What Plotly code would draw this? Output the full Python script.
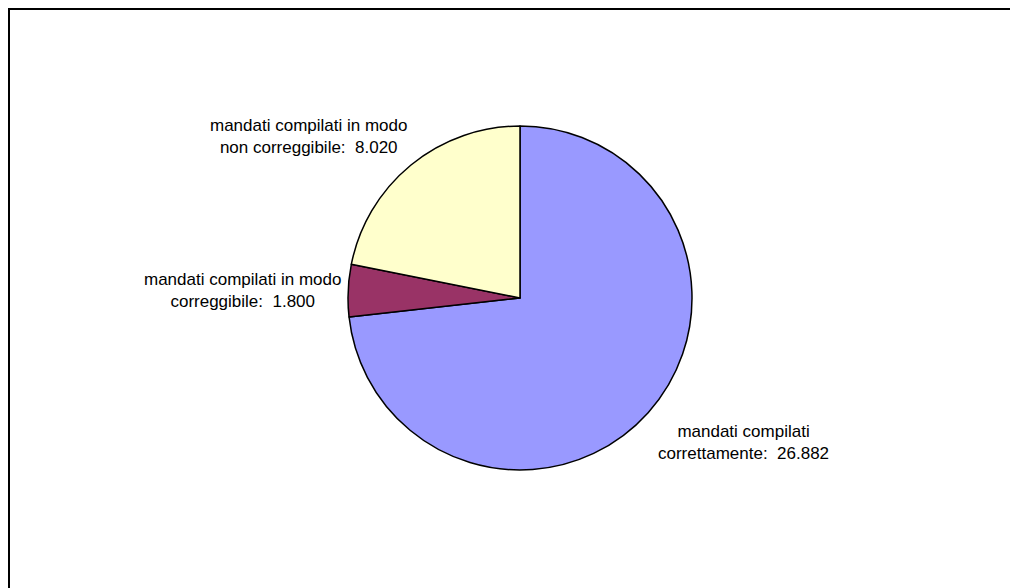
import plotly.graph_objects as go

# The page body adds an 8px offset; the figure fills the rest of the 1018x588 window.
OFF = 8
W, H = 1018 - OFF, 588 - OFF

categories = ["mandati compilati correttamente", "mandati compilati in modo correggibile",
              "mandati compilati in modo non correggibile"]
values = [26882, 1800, 8020]
colors = ["#9999FF", "#993366", "#FFFFCC"]
label_lines = [["mandati compilati", "correttamente:"],
               ["mandati compilati in modo", "correggibile:"],
               ["mandati compilati in modo", "non correggibile:"]]
label_pos = [(743, 442.5), (242, 290.5), (308, 136.5)]  # screen pixel positions of label centres

def fmt(v):
    return f"{v:,}".replace(",", ".")

cx, cy, r = 520 - OFF, 298 - OFF, 172

fig = go.Figure(go.Pie(
    labels=categories, values=values, sort=False, direction="clockwise", rotation=0,
    marker=dict(colors=colors, line=dict(color="black", width=1.5)),
    textinfo="none", hoverinfo="label+value", showlegend=False,
    domain=dict(x=[(cx - r) / W, (cx + r) / W], y=[(H - cy - r) / H, (H - cy + r) / H]),
))

for lines, v, (px, py) in zip(label_lines, values, label_pos):
    text = lines[0] + "<br>" + lines[1] + "\u00a0\u00a0" + fmt(v)
    fig.add_annotation(x=(px - OFF) / W, y=1 - (py - OFF) / H, xref="paper", yref="paper", text=text,
                       showarrow=False, xanchor="center", yanchor="middle", align="center",
                       font=dict(family="Liberation Sans, Arial", size=17, color="black"))

# outer frame: top and left edges (the rest runs off the window)
fig.add_shape(type="line", xref="paper", yref="paper", x0=0, y0=1 - 1 / H, x1=1, y1=1 - 1 / H,
              line=dict(color="black", width=2))
fig.add_shape(type="line", xref="paper", yref="paper", x0=1 / W, y0=1, x1=1 / W, y1=0,
              line=dict(color="black", width=2))

fig.update_layout(width=W, height=H, margin=dict(l=0, r=0, t=0, b=0),
                  paper_bgcolor="white", plot_bgcolor="white")
fig.write_html("out.html")
